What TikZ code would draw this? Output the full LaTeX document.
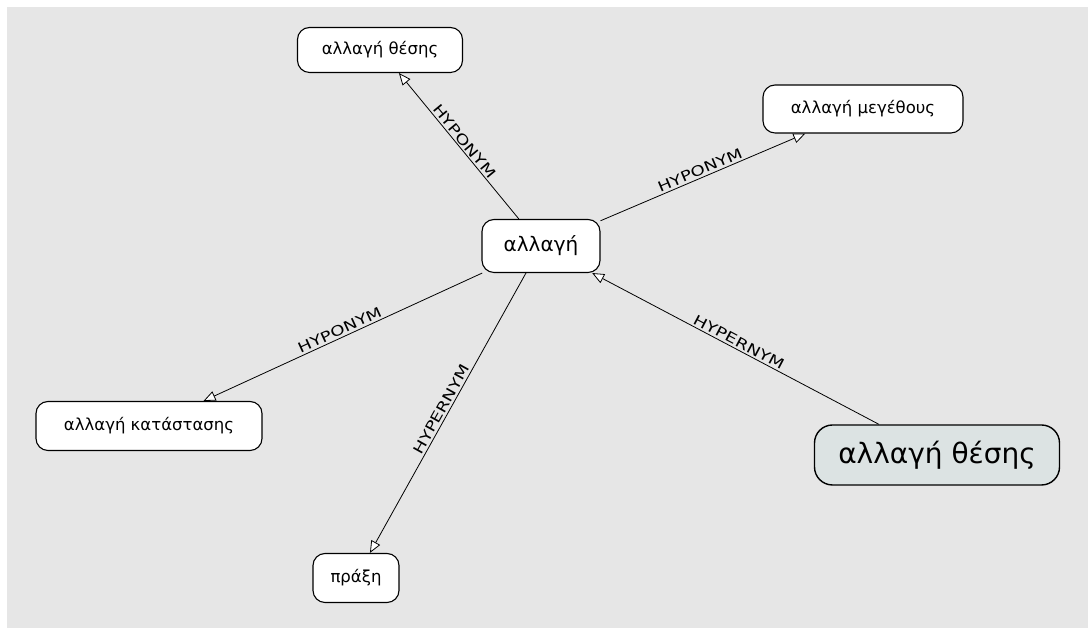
\documentclass[tikz,border=0pt]{standalone}
\usepackage{fontspec}
\setmainfont{DejaVu Sans}
\newfontfamily\relfont{DejaVu Sans}[FakeStretch=1.3]
\usetikzlibrary{arrows.meta}
\definecolor{bggray}{HTML}{E6E6E6}
\definecolor{focusfill}{HTML}{DCE3E3}

\begin{document}
\begin{tikzpicture}[x=1pt,y=1pt,>={Triangle[length=12pt,width=10pt,fill=white]},
  concept/.style={draw,line width=1.1pt,rounded corners=12pt,fill=white,inner sep=0pt,
    font=\fontsize{16.5}{18}\selectfont},
  rel/.style={font=\relfont\fontsize{14}{14}\selectfont,sloped,above,midway,inner sep=2pt}]
\useasboundingbox (0,0) rectangle (1088,628);
\fill[bggray] (7,0) rectangle (1088,621);
\node[concept,minimum width=118pt,minimum height=53pt,font=\fontsize{20}{22}\selectfont] (alla) at (541,382) {αλλαγή};
\node[concept,minimum width=165pt,minimum height=45pt] (thesi) at (380,578) {αλλαγή θέσης};
\node[concept,minimum width=200pt,minimum height=48pt] (megethos) at (863,519) {αλλαγή μεγέθους};
\node[concept,minimum width=226pt,minimum height=49pt] (katastasi) at (149,202) {αλλαγή κατάστασης};
\node[concept,minimum width=86pt,minimum height=49pt] (praxi) at (356,50) {πράξη};
\node[concept,fill=focusfill,line width=1.4pt,rounded corners=18pt,minimum width=245pt,minimum height=60pt,
  font=\fontsize{28}{30}\selectfont] (focus) at (937,173) {αλλαγή θέσης};
\foreach \dst/\lbl in {thesi/HYPONYM,megethos/HYPONYM,katastasi/HYPONYM,praxi/HYPERNYM}
  \draw[->,line width=0.8pt] (alla) -- (\dst) node[rel]{\lbl};
\draw[->,line width=0.8pt] (focus) -- (alla) node[rel]{HYPERNYM};
\end{tikzpicture}
\end{document}
